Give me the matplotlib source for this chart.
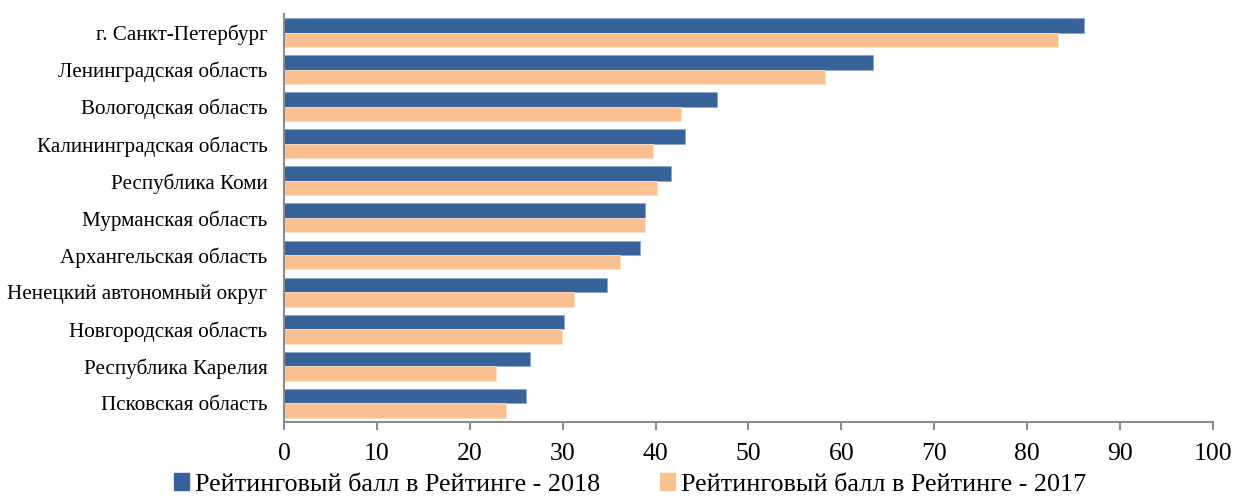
import numpy as np
import matplotlib.pyplot as plt
from matplotlib.patches import Patch

regions = ["г. Санкт-Петербург", "Ленинградская область", "Вологодская область",
           "Калининградская область", "Республика Коми", "Мурманская область",
           "Архангельская область", "Ненецкий автономный округ", "Новгородская область",
           "Республика Карелия", "Псковская область"]
score_2018 = [86.1, 63.4, 46.6, 43.2, 41.7, 38.9, 38.3, 34.8, 30.1, 26.5, 26.0]
score_2017 = [83.3, 58.2, 42.7, 39.7, 40.2, 38.9, 36.2, 31.2, 29.9, 22.8, 23.9]
xticks = list(range(0, 101, 10))

plt.rcParams['font.family'] = ['Liberation Serif', 'DejaVu Serif']

c18 = "#37629A"
c17 = "#FAC090"

fig = plt.figure(figsize=(12.35, 5.01), dpi=100)
ax = fig.add_axes([0.23, 0.158, 0.752, 0.814])

y = np.arange(len(regions))
h = 0.39
ax.barh(y - h / 2, score_2018, height=h, color=c18, edgecolor="#8FA8C8", linewidth=0.6)
ax.barh(y + h / 2, score_2017, height=h, color=c17, edgecolor="#FCE0C8", linewidth=0.6)

ax.set_ylim(len(regions) - 0.5, -0.5)
ax.set_xlim(0, 100)
ax.set_yticks(y)
ax.set_yticklabels(regions, fontsize=15.2)
ax.set_xticks(xticks)
ax.set_xticklabels([str(t) for t in xticks], fontsize=18.5)

for s in ["top", "right"]:
    ax.spines[s].set_visible(False)
for s in ["left", "bottom"]:
    ax.spines[s].set_color("#8C8C8C")
    ax.spines[s].set_linewidth(1.5)
ax.tick_params(axis="y", length=0, pad=12)
ax.tick_params(axis="x", length=6, width=1.5, color="#8C8C8C", pad=9)

handles = [Patch(color=c18, label="Рейтинговый балл в Рейтинге - 2018"),
           Patch(color=c17, label="Рейтинговый балл в Рейтинге - 2017")]
fig.legend(handles=handles, loc="lower center", bbox_to_anchor=(0.51, -0.036), ncol=2,
           frameon=False, fontsize=18.8, handlelength=0.6, handleheight=0.6,
           handletextpad=0.2, columnspacing=2.3)

fig.savefig("out.png", dpi=100)
